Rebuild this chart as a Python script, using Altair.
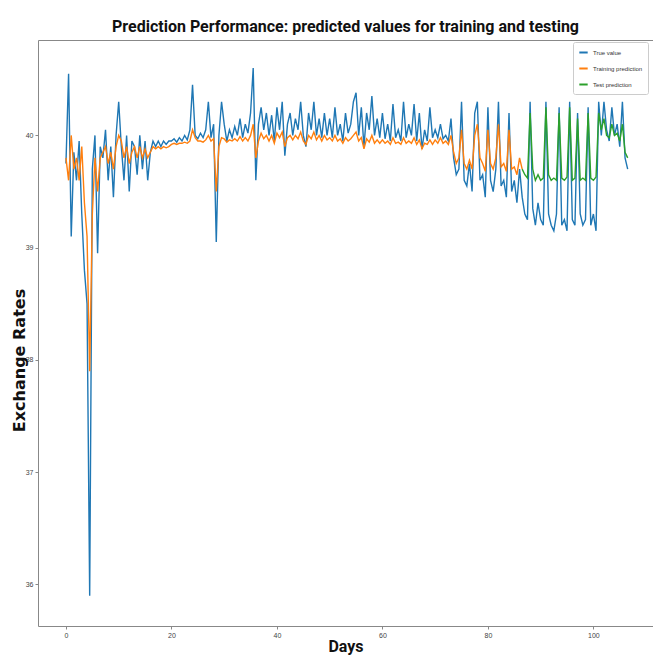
import altair as alt
import pandas as pd

# ---- data (step of half a day) ----
STEP = 0.5
true_start = 0.0
true_values = [
    39.75, 40.55, 39.1, 39.85, 39.6, 39.95, 39.3, 38.8, 38.5, 35.9, 39.7, 40.0, 38.95, 39.9, 39.8, 40.05, 39.6, 39.9, 39.45, 40.0,
    40.3, 39.9, 39.6, 40.0, 39.5, 39.95, 39.9, 39.65, 40.0, 39.7, 39.95, 39.6, 39.85, 39.95, 39.9, 39.95, 39.9, 39.95, 39.92, 39.95,
    39.95, 39.97, 39.94, 39.98, 39.95, 40.0, 39.96, 40.05, 40.45, 40.0, 39.97, 40.02, 39.98, 40.05, 40.3, 39.98, 40.1, 39.05, 40.0, 40.3,
    40.1, 39.95, 40.05, 39.98, 40.08, 40.0, 40.15, 39.98, 40.1, 40.02, 40.2, 40.6, 39.6, 40.1, 40.25, 40.05, 40.2, 40.0, 40.18, 39.95,
    40.25, 40.05, 40.3, 39.82, 40.1, 40.2, 40.0, 40.15, 40.05, 40.3, 40.0, 39.9, 40.2, 40.05, 40.3, 40.0, 40.15, 39.98, 40.2, 40.0,
    40.15, 39.98, 40.25, 40.0, 40.1, 39.95, 40.2, 40.02, 40.1, 40.3, 40.38, 40.0, 40.25, 39.9, 40.2, 40.05, 40.35, 40.0, 40.15, 39.98,
    40.2, 39.97, 40.1, 39.95, 40.28, 39.98, 40.05, 39.95, 40.3, 39.98, 40.1, 40.0, 40.28, 39.95, 40.2, 39.88, 40.05, 39.95, 40.25, 39.98,
    40.05, 39.98, 40.1, 39.97, 40.0, 39.95, 40.15, 39.8, 39.65, 39.7, 40.3, 39.6, 39.55, 39.75, 39.5, 40.2, 40.3, 39.6, 39.65, 39.45,
    40.25, 39.6, 39.5, 39.7, 40.3, 39.55, 39.6, 39.45, 40.2, 39.5, 39.6, 39.4, 39.7, 39.45, 39.3, 39.25, 40.3, 39.35, 39.2, 39.4,
    39.25, 39.2, 40.3, 39.3, 39.2, 39.15, 39.3, 40.25, 39.2, 39.25, 39.15, 40.3, 39.25, 39.2, 40.2, 39.3, 39.2, 39.25, 40.25, 39.2,
    39.3, 39.15, 40.3, 40.0, 40.3, 40.05, 39.95, 40.25, 40.0, 40.1, 39.9, 40.3, 39.8, 39.7,
]

train_start = 0.0
train_values = [
    39.8, 39.6, 40.0, 39.7, 39.8, 39.6, 39.9, 39.4, 39.1, 37.9, 39.3, 39.8, 39.5, 39.8, 39.85, 39.9, 39.75, 39.85, 39.7, 39.9,
    40.0, 39.95, 39.8, 39.9, 39.75, 39.85, 39.9, 39.8, 39.9, 39.8, 39.88, 39.8, 39.85, 39.9, 39.88, 39.9, 39.88, 39.9, 39.89, 39.9,
    39.92, 39.93, 39.92, 39.93, 39.93, 39.94, 39.93, 39.95, 40.05, 39.98, 39.95, 39.95, 39.94, 39.96, 40.0, 39.95, 39.97, 39.5, 39.9, 39.98,
    39.97, 39.94, 39.96, 39.95, 39.97, 39.95, 39.99, 39.95, 39.98, 39.95, 40.0, 40.1, 39.8, 39.95, 40.02, 39.97, 40.0, 39.95, 40.0, 39.93,
    40.02, 39.98, 40.03, 39.9, 39.98, 40.0, 39.96, 40.0, 39.97, 40.03, 39.95, 39.92, 40.0, 39.97, 40.03, 39.96, 40.0, 39.95, 40.0, 39.96,
    39.98, 39.95, 40.0, 39.95, 39.97, 39.93, 39.98, 39.95, 39.97, 40.0, 40.03, 39.95, 39.98, 39.88, 39.97, 39.94, 40.0, 39.93, 39.96, 39.93,
    39.96, 39.93, 39.95, 39.92, 39.98, 39.93, 39.94, 39.92, 39.98, 39.93, 39.95, 39.93, 39.98, 39.92, 39.96, 39.88, 39.93, 39.92, 39.96, 39.92,
    39.96, 39.93, 39.98, 39.93, 39.95, 39.92, 40.0, 39.85, 39.75, 39.8, 40.05, 39.75, 39.7, 39.78, 39.7, 40.0, 40.1, 39.8, 39.75, 39.68,
    40.05, 39.75, 39.7, 39.8, 40.1, 39.72, 39.75, 39.68, 40.05, 39.7, 39.72, 39.65, 39.8, 39.7,
]

test_start = 86.5
test_values = [
    39.7, 39.65, 39.62, 40.2, 39.7, 39.6, 39.65, 39.6, 39.62, 40.25,
    39.65, 39.6, 39.62, 39.6, 40.2, 39.62, 39.6, 39.63, 40.25, 39.6,
    39.62, 40.15, 39.6, 39.62, 39.6, 40.2, 39.62, 39.6, 39.63, 40.2,
    40.05, 40.15, 40.0, 39.98, 40.1, 40.0, 40.02, 39.95, 40.1, 39.85,
    39.8,
]

series_names = ["True value", "Training prediction", "Test prediction"]
series_colors = ["#1f77b4", "#ff7f0e", "#2ca02c"]
x_ticks = [0, 20, 40, 60, 80, 100]
y_ticks = [36, 37, 38, 39, 40]

rows = []
for order, (name, start, vals) in enumerate(zip(
        series_names, [true_start, train_start, test_start],
        [true_values, train_values, test_values])):
    for i, v in enumerate(vals):
        rows.append({"series": name, "order": order, "day": start + i * STEP, "rate": v})
df = pd.DataFrame(rows)

chart = alt.Chart(df).mark_line(strokeWidth=1.4, clip=True).encode(
    x=alt.X("day:Q", title="Days",
            scale=alt.Scale(domain=[-5.3, 111.3], nice=False, zero=False),
            axis=alt.Axis(values=x_ticks, grid=False, domain=False, tickSize=3,
                          tickColor="#888", labelFontSize=7, labelColor="#444",
                          labelPadding=2, titleFont="Roboto",
                          titleFontSize=16, titleFontWeight="bold",
                          titlePadding=0, titleColor="#111")),
    y=alt.Y("rate:Q", title="Exchange Rates",
            scale=alt.Scale(domain=[35.63, 40.85], nice=False, zero=False),
            axis=alt.Axis(values=y_ticks, grid=False, domain=False, tickSize=3,
                          tickColor="#888", labelFontSize=7, labelColor="#444",
                          labelPadding=2, titleFont="DejaVu Sans",
                          titleFontSize=16, titleFontWeight="bold",
                          titleColor="#111", titleAngle=270,
                          titleAlign="center", titleBaseline="middle",
                          titleX=-19, titleY=320)),
    color=alt.Color("series:N",
                    scale=alt.Scale(domain=series_names, range=series_colors),
                    legend=alt.Legend(title=None, orient="none", legendX=535,
                                      legendY=2, fillColor="white",
                                      strokeColor="#cccccc", padding=5,
                                      cornerRadius=2, labelFontSize=6,
                                      labelColor="#333", symbolType="stroke",
                                      symbolStrokeWidth=2, symbolSize=70,
                                      rowPadding=6)),
    order=alt.Order("order:Q"),
    detail="series:N",
).properties(
    width=615,
    height=586,
    title=alt.Title("Prediction Performance: predicted values for training and testing",
                    font="Roboto", fontSize=16, fontWeight="bold",
                    color="#111", anchor="middle", offset=5),
    autosize=alt.AutoSizeParams(type="none"),
    padding={"left": 30, "top": 32, "right": 0, "bottom": 30},
).configure_view(stroke="#888", strokeWidth=1)

chart.save("out.html", embed_options={"renderer": "svg", "actions": False})
